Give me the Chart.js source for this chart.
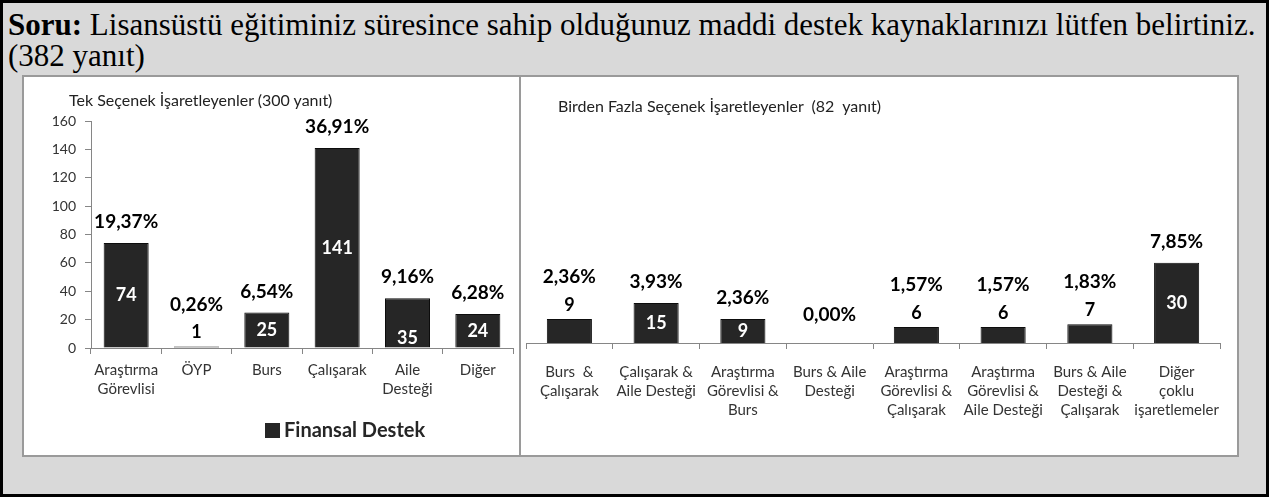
<!DOCTYPE html>
<html>
<head>
<meta charset="utf-8">
<script src="https://cdn.jsdelivr.net/npm/chart.js@4.4.1/dist/chart.umd.min.js"></script>
<style>
    html, body { margin: 0; padding: 0; background: #fff; }
    #frame {
        position: absolute; left: 0; top: 0; width: 1269px; height: 497px;
        box-sizing: border-box; border: 3px solid #000; background: #d9d9d9;
    }
    #question {
        position: absolute; left: 8px; top: 9px; white-space: nowrap; color: #000;
        font-family: "Liberation Serif", "Times New Roman", serif; font-size: 31px; line-height: 31px;
    }
    .panel {
        position: absolute; top: 75px; height: 382px;
        box-sizing: border-box; border: 2px solid #9a9a9a; background: #fff;
    }
    .chart-box { position: absolute; top: 75px; }
    .sub {
        position: absolute; white-space: pre; color: #222;
        font-family: Lato, sans-serif; font-size: 16px; line-height: 16px;
    }
</style>
</head>
<body>
<div id="frame"></div>
<div id="question"><b>Soru:</b> Lisansüstü eğitiminiz süresince sahip olduğunuz maddi destek kaynaklarınızı lütfen belirtiniz.<br>(382 yanıt)</div>

<div class="panel" style="left:22px;width:499px"></div>
<div class="panel" style="left:519px;width:720px"></div>

<div class="chart-box" style="left:22px"><canvas id="singleChart" width="497" height="382"></canvas></div>
<div class="chart-box" style="left:519px"><canvas id="multiChart" width="720" height="382"></canvas></div>

<div class="sub" style="left:69px;top:92px">Tek Seçenek İşaretleyenler (300 yanıt)</div>
<div class="sub" style="left:558px;top:98px">Birden Fazla Seçenek İşaretleyenler  (82  yanıt)</div>

<script>
// Tek seçenek
const singleLabels   = [["Araştırma", "Görevlisi"], "ÖYP", "Burs", "Çalışarak", ["Aile", "Desteği"], "Diğer"];
const singleCounts   = [74, 1, 25, 141, 35, 24];
const singlePercents = [19.37, 0.26, 6.54, 36.91, 9.16, 6.28];
const singlePlace    = ["in", "out", "in", "in", "base", "in"];

// Birden fazla seçenek
const multiLabels   = [
    ["Burs  &", "Çalışarak"],
    ["Çalışarak &", "Aile Desteği"],
    ["Araştırma", "Görevlisi &", "Burs"],
    ["Burs & Aile", "Desteği"],
    ["Araştırma", "Görevlisi &", "Çalışarak"],
    ["Araştırma", "Görevlisi &", "Aile Desteği"],
    ["Burs & Aile", "Desteği &", "Çalışarak"],
    ["Diğer", "çoklu", "işaretlemeler"]
];
const multiCounts   = [9, 15, 9, 0, 6, 6, 7, 30];
const multiPercents = [2.36, 3.93, 2.36, 0.00, 1.57, 1.57, 1.83, 7.85];
const multiPlace    = ["out", "in", "in", "none", "out", "out", "out", "in"];

const seriesName = "Finansal Destek";
const yTicksLeft = { min: 0, max: 160, step: 20 };

const BAR = "#262626";
const AXIS = "#868686";
const FONT = "Lato";

function fmtPct(v) {
    return v.toFixed(2).replace(".", ",") + "%";
}

// yüzde ve adet etiketleri (datalabels eklentisi yok)
function labelPlugin(percents, place) {
    return {
        id: "barLabels",
        afterDatasetsDraw(chart) {
            const ctx = chart.ctx;
            const meta = chart.getDatasetMeta(0);
            const data = chart.data.datasets[0].data;
            ctx.save();
            ctx.textAlign = "center";
            ctx.textBaseline = "middle";
            meta.data.forEach(function(bar, i) {
                const top = bar.y, base = bar.base;
                let pctY;
                ctx.font = "bold 18px " + FONT;
                if (place[i] === "in") {
                    ctx.fillStyle = "#fff";
                    ctx.fillText(String(data[i]), bar.x, (top + base) / 2);
                    pctY = top - 21;
                } else if (place[i] === "base") {
                    ctx.fillStyle = "#fff";
                    ctx.fillText(String(data[i]), bar.x, base - 9);
                    pctY = top - 21;
                } else if (place[i] === "out") {
                    ctx.fillStyle = "#000";
                    ctx.fillText(String(data[i]), bar.x, top - 14);
                    pctY = top - 14 - 28;
                } else {
                    pctY = top - 28;
                }
                ctx.font = "bold 19px " + FONT;
                ctx.fillStyle = "#000";
                ctx.fillText(fmtPct(percents[i]), bar.x, pctY);
            });
            ctx.restore();
        }
    };
}

// Excel tarzı lejant, sol grafiğin altında
const legendPlugin = {
    id: "manualLegend",
    afterDraw(chart) {
        const ctx = chart.ctx;
        const ds = chart.data.datasets[0];
        ctx.save();
        ctx.fillStyle = ds.backgroundColor;
        ctx.fillRect(243, 348, 15, 15);
        ctx.font = "bold 20px " + FONT;
        ctx.fillStyle = "#262626";
        ctx.textAlign = "left";
        ctx.textBaseline = "middle";
        ctx.fillText(ds.label, 262, 356);
        ctx.restore();
    }
};

function xScale(padding, height) {
    return {
        grid: { display: true, drawOnChartArea: false, drawTicks: true, tickLength: 6, color: AXIS, offset: true },
        border: { display: true, color: AXIS, width: 1 },
        ticks: {
            autoSkip: false, maxRotation: 0, minRotation: 0, padding: padding,
            color: "#333", font: { family: FONT, size: 15, lineHeight: 1.27 }
        },
        afterFit: function(s) { s.height = height; }
    };
}

new Chart(document.getElementById("singleChart").getContext("2d"), {
    type: "bar",
    data: {
        labels: singleLabels,
        datasets: [{
            label: seriesName,
            data: singleCounts,
            backgroundColor: BAR,
            borderColor: "#0d0d0d",
            borderWidth: 1,
            categoryPercentage: 1,
            barPercentage: 0.64
        }]
    },
    options: {
        responsive: false,
        animation: false,
        layout: { padding: { left: 0, right: 6, top: 46, bottom: 39 } },
        plugins: { legend: { display: false }, tooltip: { enabled: false } },
        scales: {
            x: xScale(7, 70),
            y: {
                min: yTicksLeft.min, max: yTicksLeft.max,
                grid: { display: true, drawOnChartArea: false, drawTicks: true, tickLength: 6, color: AXIS },
                border: { display: true, color: AXIS, width: 1 },
                ticks: { stepSize: yTicksLeft.step, padding: 9, color: "#333", font: { family: FONT, size: 14 } },
                afterFit: function(s) { s.width = 69; }
            }
        }
    },
    plugins: [labelPlugin(singlePercents, singlePlace), legendPlugin]
});

new Chart(document.getElementById("multiChart").getContext("2d"), {
    type: "bar",
    data: {
        labels: multiLabels,
        datasets: [{
            label: seriesName,
            data: multiCounts,
            backgroundColor: BAR,
            borderColor: "#0d0d0d",
            borderWidth: 1,
            categoryPercentage: 1,
            barPercentage: 0.52
        }]
    },
    options: {
        responsive: false,
        animation: false,
        layout: { padding: { left: 7, right: 19, top: 54, bottom: 14 } },
        plugins: { legend: { display: false }, tooltip: { enabled: false } },
        scales: {
            x: xScale(14, 100),
            y: { display: false, min: 0, max: 80 }
        }
    },
    plugins: [labelPlugin(multiPercents, multiPlace)]
});
</script>
</body>
</html>
